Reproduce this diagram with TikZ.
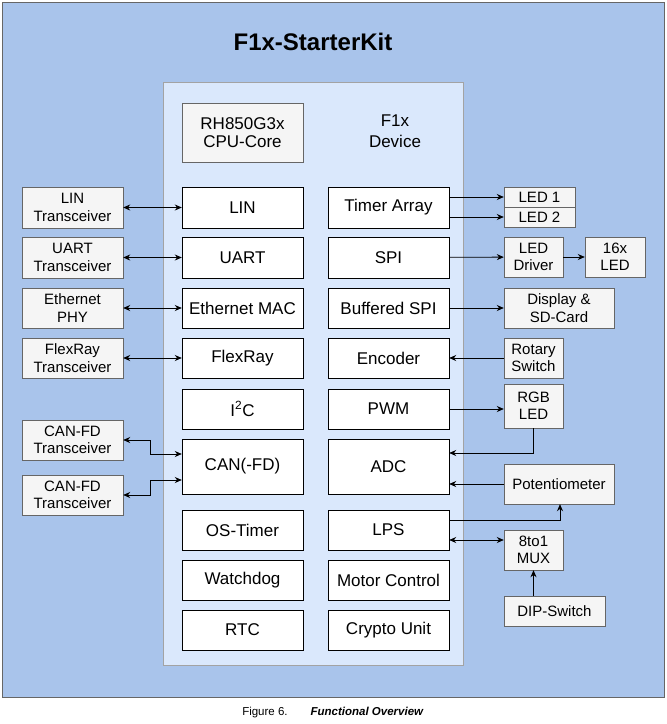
\documentclass[tikz,border=0pt]{standalone}
\usepackage{fontspec}
\setmainfont{Liberation Sans}
\usetikzlibrary{arrows.meta}
\definecolor{bgblue}{HTML}{A9C4EB}
\definecolor{inner}{HTML}{DAE8FC}
\definecolor{gbox}{HTML}{F5F5F5}
\definecolor{gline}{HTML}{666666}
\tikzset{
 blk/.style={draw=black,fill=white,inner sep=0pt,align=center,font=\fontsize{17}{19}\selectfont},
 ext/.style={draw=gline,fill=gbox,inner sep=0pt,align=center,font=\fontsize{15}{17.5}\selectfont},
 a/.style={-{Stealth[length=7pt,width=6pt]},thick},
 aa/.style={{Stealth[length=7pt,width=6pt]}-{Stealth[length=7pt,width=6pt]},thick},
}
\newcommand{\bx}[6]{\node[#1,minimum width=#4-#3,minimum height=#6-#5] (#2) at ({(#3+#4)/2},{(#5+#6)/2})}
\begin{document}
\begin{tikzpicture}[x=1pt,y=-1pt]
\useasboundingbox (0,0) rectangle (667,724);
\fill[white] (0,0) rectangle (667,724);
\draw[gline,fill=bgblue] (2,2) rectangle (664,697);
\draw[gline!60,fill=inner] (163,82) rectangle (463,665);
\node[font=\bfseries\fontsize{24}{27}\selectfont] (title) at (313,42) {F1x-StarterKit};
\node[font=\fontsize{17}{21}\selectfont,align=center] (dev) at (395,131) {F1x\\Device};
\node[font=\fontsize{11.5}{13}\selectfont] (cap) at (333,713) {Figure 6.\qquad\textbf{\textit{Functional Overview}}};
\bx{ext}{cpu}{182}{303}{103}{162} {\fontsize{17}{20}\selectfont RH850G3x\\\fontsize{17}{20}\selectfont CPU-Core};
\bx{blk}{lin}{182}{303}{187}{228} {LIN};
\bx{blk}{uart}{182}{303}{237}{278} {UART};
\bx{blk}{eth}{182}{303}{288}{328} {Ethernet MAC};
\bx{blk}{flex}{182}{303}{338}{378} {FlexRay};
\bx{blk}{iic}{182}{303}{389}{429} {I\textsuperscript{2}C};
\bx{blk}{can}{182}{303}{439}{494} {CAN(-FD)};
\bx{blk}{ost}{182}{303}{510}{550} {OS-Timer};
\bx{blk}{wd}{182}{303}{560}{600} {Watchdog};
\bx{blk}{rtc}{182}{303}{610}{650} {RTC};
\bx{blk}{ta}{328}{449}{187}{228} {Timer Array};
\bx{blk}{spi}{328}{449}{237}{278} {SPI};
\bx{blk}{bspi}{328}{449}{288}{328} {Buffered SPI};
\bx{blk}{enc}{328}{449}{338}{378} {Encoder};
\bx{blk}{pwm}{328}{449}{389}{429} {PWM};
\bx{blk}{adc}{328}{449}{439}{494} {ADC};
\bx{blk}{lps}{328}{449}{510}{550} {LPS};
\bx{blk}{mc}{328}{449}{560}{600} {Motor Control};
\bx{blk}{cu}{328}{449}{610}{650} {Crypto Unit};
\bx{ext}{linT}{22}{123}{187}{228} {LIN\\Transceiver};
\bx{ext}{uartT}{22}{123}{237}{278} {UART\\Transceiver};
\bx{ext}{phy}{22}{123}{288}{328} {Ethernet\\PHY};
\bx{ext}{flexT}{22}{123}{338}{378} {FlexRay\\Transceiver};
\bx{ext}{can1}{22}{123}{420}{460} {CAN-FD\\Transceiver};
\bx{ext}{can2}{22}{123}{475}{515} {CAN-FD\\Transceiver};
\bx{ext}{led1}{504}{575}{187}{207} {LED 1};
\bx{ext}{led2}{504}{575}{207}{227} {LED 2};
\bx{ext}{ldrv}{504}{563}{237}{277} {LED\\Driver};
\bx{ext}{led16}{585}{645}{237}{277} {16x\\LED};
\bx{ext}{disp}{504}{614}{288}{328} {Display \&\\SD-Card};
\bx{ext}{rot}{504}{563}{338}{378} {Rotary\\Switch};
\bx{ext}{rgb}{504}{563}{384}{428} {RGB\\LED};
\bx{ext}{pot}{504}{614}{464}{504} {Potentiometer};
\bx{ext}{mux}{504}{563}{530}{570} {8to1\\MUX};
\bx{ext}{dip}{504}{605}{596}{626} {DIP-Switch};
\draw[aa] (linT) -- (lin);
\draw[aa] (uartT) -- (uart);
\draw[aa] (phy) -- (eth);
\draw[aa] (flexT) -- (flex);
\draw[aa] (can1.east) -| (150,454) -- (can.west |- 0,454);
\draw[aa] (can2.east) -| (150,480) -- (can.west |- 0,480);
\draw[a] (ta.east |- led1.west) -- (led1.west);
\draw[a] (ta.east |- led2.west) -- (led2.west);
\draw[a] (spi) -- (ldrv);
\draw[a] (ldrv) -- (led16);
\draw[a] (bspi) -- (disp);
\draw[a] (rot) -- (enc);
\draw[a] (pwm) -- (rgb.west |- pwm);
\draw[a] (rgb.south) |- (adc.east |- 0,453);
\draw[a] (pot.west) -- (adc.east |- pot.west);
\draw[a] (lps.east |- 0,520) -| (pot.south -| 560,0);
\draw[aa] (lps.east |- 0,540) -- (mux.west |- 0,540);
\draw[a] (dip.north -| mux) -- (mux.south);
\end{tikzpicture}
\end{document}
